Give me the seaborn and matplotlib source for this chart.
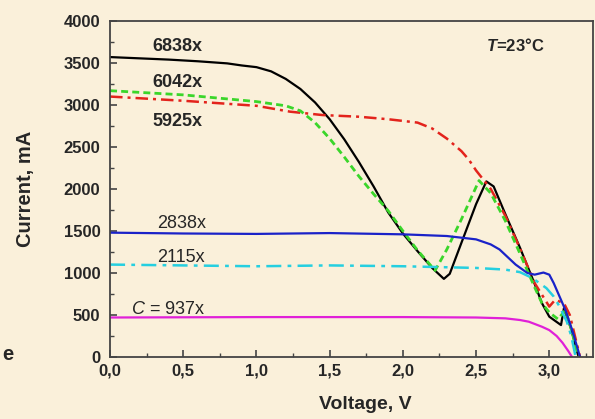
import matplotlib
matplotlib.use('Agg')
import matplotlib.pyplot as plt
import seaborn as sns
from matplotlib.ticker import MultipleLocator, FixedLocator

# 6838x (black)
V_6838 = [0, 0.2, 0.4, 0.6, 0.8, 0.9, 1.0, 1.1, 1.2, 1.3, 1.4, 1.5, 1.6, 1.7,
          1.8, 1.9, 2.0, 2.1, 2.2, 2.28, 2.32, 2.4, 2.5, 2.57, 2.62, 2.7, 2.8,
          2.9, 2.95, 3.0, 3.08, 3.10, 3.15, 3.2]
I_6838 = [3570, 3555, 3540, 3520, 3495, 3470, 3450, 3400, 3310, 3190, 3030,
          2830, 2590, 2320, 2030, 1720, 1470, 1260, 1060, 930, 990, 1360, 1820,
          2090, 2030, 1700, 1300, 870, 640, 480, 380, 580, 330, 0]

# 6042x (green)
V_6042 = [0, 0.5, 1.0, 1.2, 1.3, 1.4, 1.5, 1.6, 1.7, 1.8, 1.9, 2.0, 2.1, 2.22,
          2.3, 2.4, 2.52, 2.6, 2.7, 2.8, 2.9, 2.95, 3.0, 3.06, 3.11, 3.15, 3.2]
I_6042 = [3170, 3120, 3040, 2990, 2930, 2790, 2600, 2380, 2150, 1940, 1740,
          1500, 1270, 1030, 1280, 1640, 2100, 1950, 1620, 1230, 830, 640, 530,
          450, 560, 330, 0]

# 5925x (red)
V_5925 = [0, 0.5, 1.0, 1.23, 1.45, 1.7, 1.9, 2.0, 2.1, 2.2, 2.3, 2.4, 2.45,
          2.5, 2.55, 2.6, 2.7, 2.8, 2.9, 3.0, 3.04, 3.1, 3.14, 3.21]
I_5925 = [3100, 3050, 2990, 2920, 2880, 2860, 2830, 2810, 2790, 2720, 2600,
          2450, 2350, 2220, 2110, 2000, 1680, 1290, 880, 600, 680, 640, 500, 0]

# 2838x (blue)
V_2838 = [0, 0.5, 1.0, 1.5, 2.0, 2.3, 2.5, 2.6, 2.66, 2.77, 2.85, 2.9, 2.96,
          3.0, 3.03, 3.07, 3.11, 3.16, 3.21]
I_2838 = [1480, 1470, 1465, 1475, 1460, 1440, 1400, 1340, 1280, 1100, 1000,
          980, 1005, 980, 880, 720, 560, 300, 0]

# 2115x (cyan)
V_2115 = [0, 0.5, 1.0, 1.5, 2.0, 2.5, 2.7, 2.8, 2.86, 2.9, 2.98, 3.03, 3.07,
          3.12, 3.15, 3.18]
I_2115 = [1100, 1090, 1080, 1090, 1080, 1060, 1040, 1010, 960, 920, 820, 720,
          600, 420, 250, 0]

# C = 937x (magenta)
V_937 = [0, 1.0, 2.0, 2.5, 2.7, 2.8, 2.86, 2.95, 3.0, 3.05, 3.09, 3.13, 3.155]
I_937 = [470, 475, 475, 470, 460, 440, 420, 360, 320, 250, 170, 70, 0]

X_TICKS = [0.0, 0.5, 1.0, 1.5, 2.0, 2.5, 3.0]
X_LABELS = ['0,0', '0,5', '1,0', '1,5', '2,0', '2,5', '3,0']
Y_TICKS = [0, 500, 1000, 1500, 2000, 2500, 3000, 3500, 4000]

BG = '#faf0da'


def main():
    sns.set_style('ticks')
    plt.rcParams['font.family'] = ['Liberation Sans', 'DejaVu Sans']
    plt.rcParams['mathtext.fontset'] = 'custom'
    plt.rcParams['mathtext.it'] = 'Liberation Sans:italic'
    plt.rcParams['mathtext.bfit'] = 'Liberation Sans:italic:bold'
    fig = plt.figure(figsize=(5.95, 4.19), dpi=100, facecolor=BG)
    ax = fig.add_axes([0.185, 0.148, 0.812, 0.802])
    ax.set_facecolor(BG)

    sns.lineplot(x=V_6838, y=I_6838, ax=ax, color='black', lw=1.6,
                 sort=False)
    sns.lineplot(x=V_5925, y=I_5925, ax=ax, color='#e3231c', lw=1.8,
                 sort=False, linestyle=(0, (5, 2, 1.2, 2)))
    sns.lineplot(x=V_6042, y=I_6042, ax=ax, color='#3ad62a', lw=2.0,
                 sort=False, linestyle=(0, (2.5, 1.5)))
    sns.lineplot(x=V_2838, y=I_2838, ax=ax, color='#1a22c8', lw=1.6,
                 sort=False)
    sns.lineplot(x=V_2115, y=I_2115, ax=ax, color='#25cfe0', lw=1.8,
                 sort=False, linestyle=(0, (6, 2.5, 1.5, 2.5)))
    sns.lineplot(x=V_937, y=I_937, ax=ax, color='#e020d8', lw=1.6,
                 sort=False)

    ax.set_xlim(0, 3.3)
    ax.set_ylim(0, 4000)
    ax.xaxis.set_major_locator(FixedLocator(X_TICKS))
    ax.set_xticklabels(X_LABELS)
    ax.xaxis.set_minor_locator(MultipleLocator(0.25))
    ax.yaxis.set_major_locator(FixedLocator(Y_TICKS))
    ax.yaxis.set_minor_locator(MultipleLocator(250))
    ax.tick_params(which='major', direction='in', length=5, width=1.2,
                   color='#444444', labelsize=12)
    ax.tick_params(axis='x', which='major', pad=5)
    ax.tick_params(axis='y', which='major', pad=7)
    ax.tick_params(which='minor', direction='in', length=3, width=1.0,
                   color='#444444')
    for lab in ax.get_xticklabels() + ax.get_yticklabels():
        lab.set_fontweight('bold')
    for sp in ax.spines.values():
        sp.set_visible(True)
        sp.set_color('#444444')
        sp.set_linewidth(1.3)

    ax.set_xlabel('Voltage, V', fontsize=14, fontweight='bold')
    ax.set_ylabel('Current, mA', fontsize=14.5, fontweight='bold')
    ax.xaxis.set_label_coords(0.528, -0.117)
    ax.yaxis.set_label_coords(-0.155, 0.5)

    ax.text(0.29, 3700, '6838x', fontsize=13, fontweight='bold',
            va='center')
    ax.text(0.29, 3262, '6042x', fontsize=13, fontweight='bold',
            va='center')
    ax.text(0.29, 2798, '5925x', fontsize=13, fontweight='bold',
            va='center')
    ax.text(0.32, 1590, '2838x', fontsize=13, va='center')
    ax.text(0.32, 1190, '2115x', fontsize=13, va='center')
    ax.text(0.14, 560, '$C$ = 937x', fontsize=13, va='center')
    ax.text(2.57, 3710, r'$\mathbfit{T}$=23°C', fontsize=12,
            fontweight='bold', va='center')
    fig.text(0.003, 0.153, 'e', fontsize=14.5, fontweight='bold',
             va='center')

    plt.savefig('out.png', dpi=100, facecolor=BG)


if __name__ == '__main__':
    main()
